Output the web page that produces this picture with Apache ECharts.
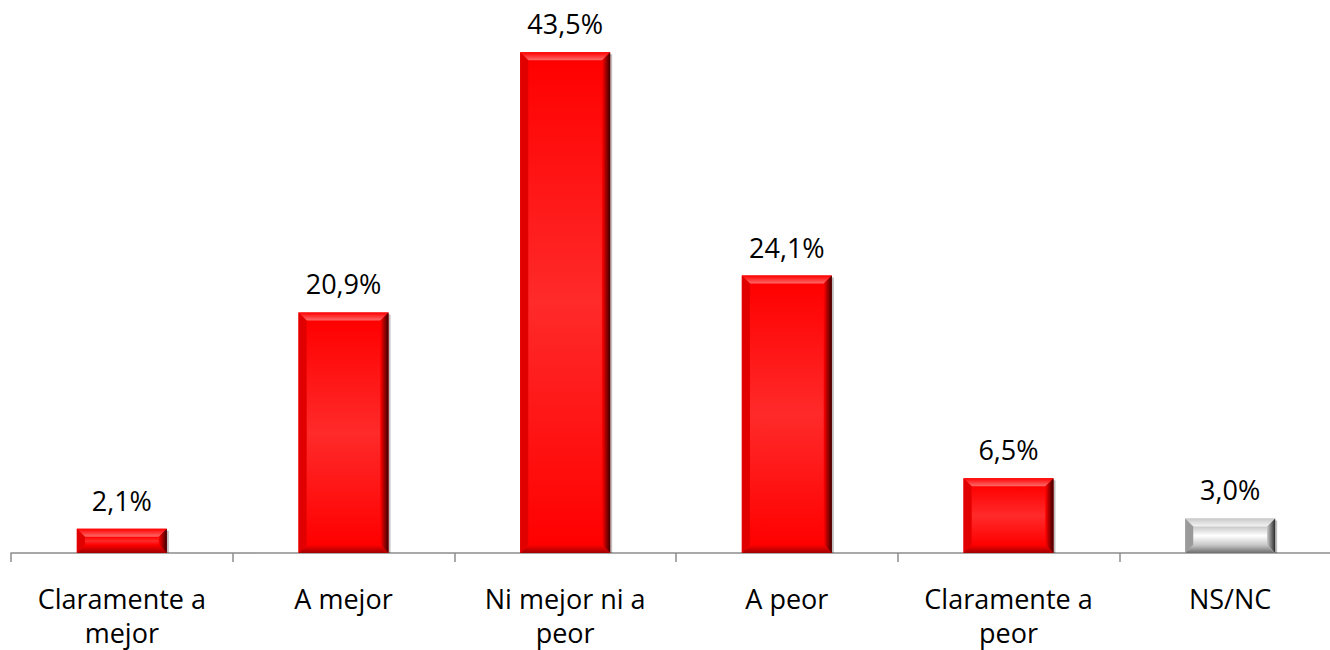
<!DOCTYPE html>
<html style="height: 100%">
<head>
    <meta charset="utf-8">
</head>
<body style="height: 100%; margin: 0; background: #fff; overflow: hidden">
<div id="container" style="height: 650px; width: 1341px"></div>
<script type="text/javascript" src="https://cdn.jsdelivr.net/npm/echarts@6/dist/echarts.min.js"></script>
<script type="text/javascript">
    var categories = ['Claramente a\nmejor', 'A mejor', 'Ni mejor ni a\npeor', 'A peor', 'Claramente a\npeor', 'NS/NC'];
    var values = [2.1, 20.9, 43.5, 24.1, 6.5, 3.0];
    var kinds = ['red', 'red', 'red', 'red', 'red', 'grey'];

    var palette = {
        red: { face: '#ff0000', light: '#ff6a6a', left: '#e00000', right: '#3a0000', bottom: '#a00000', mid: '#ff2a2a' },
        grey: { face: '#c8c8c8', light: '#f4f4f4', left: '#9a9a9a', right: '#2a2a2a', bottom: '#6e6e6e', mid: '#ffffff' }
    };

    function fmt(v) {
        return v.toFixed(1).replace('.', ',') + '%';
    }

    var dom = document.getElementById('container');
    var myChart = echarts.init(dom, null, { renderer: 'svg' });

    function renderBar(params, api) {
        var idx = api.value(0);
        var val = api.value(1);
        var top = api.coord([idx, val]);
        var base = api.coord([idx, 0]);
        var half = 45;
        var x0 = top[0] - half, x1 = top[0] + half;
        var y0 = top[1], y1 = base[1];
        var b = Math.min(8, (y1 - y0) / 2.6);
        var c = palette[kinds[params.dataIndex]];
        return {
            type: 'group',
            children: [
                { type: 'rect', shape: { x: x0 + 2, y: y0 + 2, width: half * 2, height: y1 - y0 - 2 },
                  style: { fill: 'rgba(0,0,0,0.25)' } },
                { type: 'rect', shape: { x: x0, y: y0, width: half * 2, height: y1 - y0 },
                  style: { fill: c.face } },
                { type: 'rect', shape: { x: x0 + b, y: y0 + b, width: half * 2 - 2 * b, height: y1 - y0 - 2 * b },
                  style: { fill: new echarts.graphic.LinearGradient(0, 0, 0, 1, [
                      { offset: 0, color: c.face }, { offset: 0.5, color: c.mid }, { offset: 1, color: c.face }
                  ]) } },
                { type: 'polygon', shape: { points: [[x0, y0], [x1, y0], [x1 - b, y0 + b], [x0 + b, y0 + b]] },
                  style: { fill: new echarts.graphic.LinearGradient(0, 0, 0, 1, [
                      { offset: 0, color: c.face }, { offset: 1, color: c.light }
                  ]) } },
                { type: 'polygon', shape: { points: [[x0, y0], [x0 + b, y0 + b], [x0 + b, y1 - b], [x0, y1]] },
                  style: { fill: c.left } },
                { type: 'polygon', shape: { points: [[x1, y0], [x1, y1], [x1 - b, y1 - b], [x1 - b, y0 + b]] },
                  style: { fill: new echarts.graphic.LinearGradient(0, 0, 1, 0, [
                      { offset: 0, color: c.face }, { offset: 1, color: c.right }
                  ]) } },
                { type: 'polygon', shape: { points: [[x0, y1], [x1, y1], [x1 - b, y1 - b], [x0 + b, y1 - b]] },
                  style: { fill: new echarts.graphic.LinearGradient(0, 0, 0, 1, [
                      { offset: 0, color: c.face }, { offset: 1, color: c.bottom }
                  ]) } },
                { type: 'text', style: { text: fmt(val), x: top[0], y: y0 - 15, align: 'center', verticalAlign: 'bottom',
                  font: '27px "Open Sans", sans-serif', fill: '#000' } }
            ]
        };
    }

    var option = {
        animation: false,
        grid: { left: 11, right: 0, top: 35, bottom: 97, containLabel: false },
        xAxis: {
            type: 'category',
            data: categories,
            axisLine: { lineStyle: { color: '#8c8c8c', width: 1.5 } },
            axisTick: { show: true, interval: 0, length: 9, lineStyle: { color: '#8c8c8c', width: 1.5 } },
            axisLabel: { color: '#000', fontSize: 27, fontFamily: 'Open Sans', margin: 28, lineHeight: 34, interval: 0 }
        },
        yAxis: {
            type: 'value',
            min: 0,
            max: 45,
            show: false,
            splitLine: { show: false }
        },
        series: [{
            type: 'custom',
            renderItem: renderBar,
            data: values.map(function (v, i) { return [i, v]; }),
            z: 3
        }]
    };

    myChart.setOption(option);
</script>
</body>
</html>
